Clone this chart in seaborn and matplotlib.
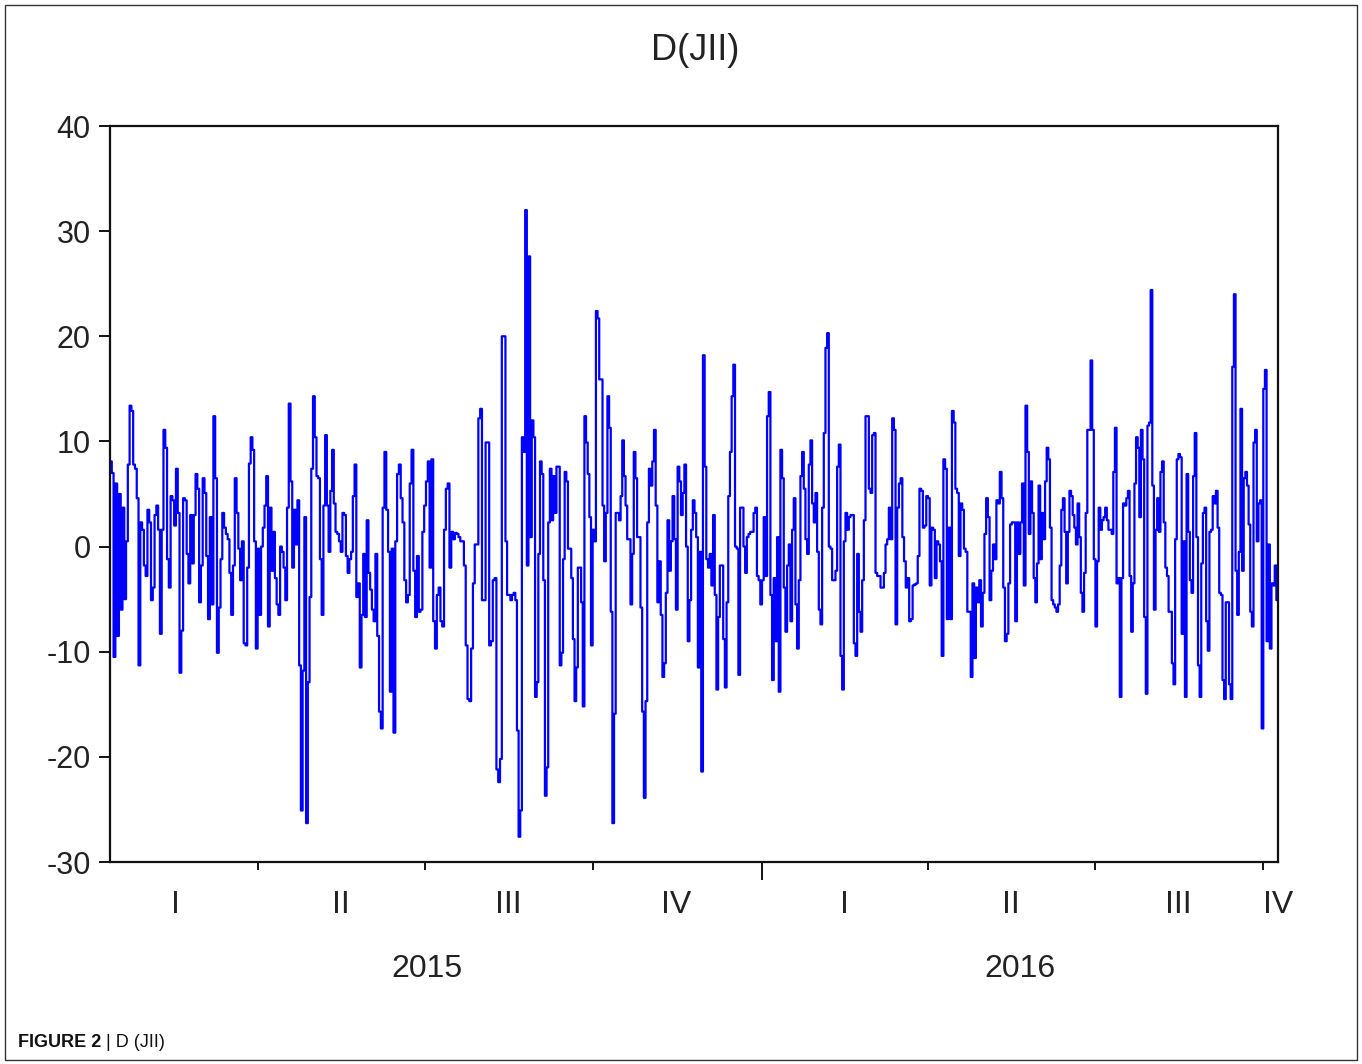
import pandas as pd
import matplotlib.pyplot as plt
import seaborn as sns
from matplotlib.patches import Rectangle

# D(JII) daily first differences in order (left to right),
# split into nine stretches; each stretch begins on the matching date in part_starts
d_jii_part1 = [8.1, 7.0, -10.5, 6.0, -8.5, 5.0, -6.0, 3.7, -5.0, 0.5, 7.8, 13.4, 12.9, 7.8, 7.4, 4.6,
               -11.3, 2.3, 1.6, -1.8, -2.8, 3.5, 2.3, -5.1, -3.9, 3.0, 3.9, 1.6, -8.3, 1.6, 11.1, 9.4,
               -1.2, -3.9, 4.8, 4.4, 2.0, 7.4, 3.2, -12.0, -8.0, 4.6, 4.4, -0.7, -3.5, 3.0, -1.6, 3.0,
               6.9, 5.5, -5.3, -1.8, 6.5, 5.1, -0.9, -6.9, 2.8, -5.5, 12.4, 6.5, -10.1, -5.8, -1.2,
               3.2, 1.8, 1.2, 0.7, -2.5, -6.5, -1.8, 6.5, 3.2, -0.2, -3.2, 0.5, -9.2]
d_jii_part2 = [-9.4, -2.0, 7.9, 10.4, 9.2, 0.5, -9.7, -0.2, -6.5, 0.0, 1.8, 3.9, 6.7, -7.6, 3.7, -2.3,
               1.4, -3.0, -5.5, -6.5, 0.0, -0.5, -2.0, -5.1, 3.7, 13.6, 6.2, -2.0, 3.5, 0.2, 4.4, -11.3,
               -25.1, -11.8, 2.8, -26.3, -12.9, -4.8, 7.4, 14.3, 10.4, 6.7, 6.5, -1.2, -6.5, 3.9, 10.6,
               3.9, -0.5, 5.3, 9.2, 4.1, 1.4, 1.2, 0.5, -0.5, 3.2, 3.0, -0.9, -2.5, -1.2, -0.5, 4.8,
               7.8, -4.8, -3.5, -11.5, -6.5, -0.7, -6.7, 2.5, -2.5, -4.1, -6.0]
d_jii_part3 = [-7.1, -0.7, -8.5, -15.7, -17.3, 3.7, 9.0, 3.5, -0.5, -13.8, -0.2, -17.7, 0.5, 6.9, 7.8,
               4.6, 2.3, -3.2, -5.3, -4.6, 6.0, 9.2, -2.3, -6.7, -0.9, -6.2, -6.0, 1.4, 3.9, 6.2, 8.1,
               -2.0, 8.3, -7.1, -9.7, -4.6, -3.9, -7.1, -7.6, 1.6, 5.5, 6.0, -2.0, 1.4, 0.7, 1.3, 1.2,
               0.9, 0.5, 0.5, -1.8, -9.4, -14.5, -14.7, -9.7, -3.5, 0.2, 0.2, 12.2, 13.1, -5.1, -5.1,
               9.9, 9.9, -9.4, -9.0, -3.2, -3.0, -21.2, -22.4, -20.2, 20.0, 20.0]
d_jii_part4 = [0.5, -4.6, -4.6, -5.1, -4.6, -4.4, -5.1, -17.5, -27.6, -25.1, 10.4, 9.0, 32.0, -1.8,
               27.6, 0.9, 12.0, 10.4, -14.3, -12.9, -0.7, 8.1, 6.9, -3.2, -23.7, -21.0, 2.3, 7.4, 2.5,
               6.7, 3.2, 7.6, 7.6, -11.3, -10.1, -1.2, 7.1, 6.2, -0.2, -0.2, -3.0, -8.8, -14.7, -11.5,
               -2.0, -2.0, -5.3, -15.2, 12.4, 9.9, 6.9, 2.8, -9.4, 1.6, 0.5, 22.4, 21.7, 15.9, 15.9,
               3.9, -1.4, 3.2, 14.3, 11.3, -6.2, -26.3, -15.9, 3.2, 3.2, 2.5, 4.8, 10.1, 6.7, 3.9, 0.7,
               0.7, -5.5, -0.7, 9.0]
d_jii_part5 = [6.5, 0.9, 0.9, -5.8, -15.7, -23.9, -14.7, 2.3, 7.4, 5.8, 8.1, 11.1, 3.9, -5.3, -1.4,
               -6.5, -12.4, -11.1, -4.4, 2.5, -2.3, 0.5, 4.8, 0.7, -6.0, 7.6, 6.2, 3.0, 5.1, 7.8, 0.0,
               -9.0, -5.1, 1.6, 4.4, 3.2, 0.9, -11.5, -0.5, -21.4, 18.2, 7.6, -1.2, -2.0, -0.7, -3.7,
               3.0, -4.6, -13.6, -6.7, -1.8, -1.8, -8.8, -13.4, -5.3, 4.8, 9.0, 14.3, 17.3, 0.0, -0.2,
               -12.2, 3.7, 3.7, 0.0, -2.5, 0.9, 1.2, 1.4, 1.4, 3.2, 3.7, -2.8, -3.2, -5.5, -3.2, 2.8]
d_jii_part6 = [-2.8, 12.4, 14.7, -4.6, -12.7, -3.0, -9.0, 0.9, -13.8, 9.2, 6.5, -3.9, -8.1, -1.8, 0.2,
               -7.1, 1.6, 4.6, -5.5, -9.7, -3.2, 6.7, 9.0, 5.5, 0.7, -0.7, 7.8, 10.1, 4.1, 2.3, 5.1,
               -0.5, -6.0, -7.4, 3.7, 10.8, 18.9, 20.3, 0.0, -0.2, -3.2, -3.2, -2.3, 7.6, 9.7, -10.4,
               -13.6, 0.5, 3.2, 1.6, 2.8, 3.0, 3.0, -9.2, -10.4, -0.7, -6.2, -8.1, -3.2, 2.5, 12.4,
               12.4, 5.5, 5.1, 10.6, 10.8, -2.5, -2.8, -2.8, -3.9, -3.9, -2.5, 0.2, 0.7, 3.7, 0.7,
               12.2, 11.1, -7.4]
d_jii_part7 = [3.7, 6.0, 6.5, 0.9, -1.4, -3.9, -3.0, -7.1, -6.9, -3.7, -3.6, -3.5, -0.9, 5.5, 5.3, 1.8,
               2.0, 4.8, 4.6, -3.7, 1.8, 1.6, -3.0, 0.5, 0.2, -1.4, -10.4, 8.3, 7.4, -6.9, 1.8, -6.9,
               12.9, 11.8, 5.5, 5.1, -0.9, 4.1, 3.5, -0.2, -0.5, -6.2, -6.2, -12.4, -3.5, -10.6, -3.9,
               -5.3, -3.2, -7.6, -4.4, 1.2, 4.6, 2.8, -5.1, -2.3, 0.2, -1.2, 4.4, 4.1, 7.1, 4.6, -3.9,
               -9.0, -8.3, -3.5, 2.1, 2.3, 2.3, -7.1, 2.3, -0.7, 2.3, 6.0, -3.7, 13.4]
d_jii_part8 = [9.0, 1.2, 6.2, 3.2, -3.0, -5.3, -1.6, 5.8, -1.2, 3.2, 0.7, 6.2, 9.4, 8.3, 1.8, -5.1,
               -5.5, -5.8, -6.2, -5.5, -1.8, 3.5, 4.6, 1.4, -3.5, 1.4, 5.3, 4.8, 3.0, 1.8, 0.2, 4.1,
               0.9, -4.4, -6.2, -2.5, 3.2, 11.1, 11.1, 17.7, 11.1, -1.2, -7.6, -1.4, 3.7, 1.6, 2.5,
               2.8, 3.7, 2.5, 1.6, 1.6, 1.2, 7.1, 11.3, -3.5, -3.0, -14.3, -3.0, 4.1, 3.9, 4.6, 5.3,
               -2.8, -8.1, -3.5, 6.0, 10.4, 9.4, 2.8, 11.1, 8.3, -6.7, -14.0, 11.5, 11.8, 24.4, 5.8,
               -6.0, 1.6]
d_jii_part9 = [4.6, 1.4, 7.1, 8.1, 2.3, -2.0, -2.8, -6.2, -6.2, -11.1, -13.1, 0.7, 8.3, 8.8, 8.5, -8.3,
               0.5, -14.3, 6.9, 1.4, -3.2, -4.4, 6.7, 10.8, 0.9, -11.3, -14.3, -1.6, 3.2, 3.7, -7.1,
               -9.9, 1.4, 1.6, 4.8, 4.1, 5.3, 1.8, -4.4, -4.6, -12.7, -14.5, -5.3, -5.3, -13.1, -14.5,
               17.1, 24.0, -2.3, -6.5, -0.5, 13.1, -2.3, 6.5, 7.1, 5.8, 2.1, -6.2, -7.6, 9.9, 11.1,
               0.5, 4.1, 4.4, -17.3, 15.0, 16.8, -9.0, 0.2, -9.7, -3.5, -3.7, -1.8, -5.1]

part_starts = ["2015-01-10", "2015-03-25", "2015-06-03", "2015-08-14", "2015-10-24",
               "2016-01-03", "2016-03-15", "2016-05-25", "2016-08-04"]
end_date = "2016-10-09"
quarter_names = ["I", "II", "III", "IV"]
years = [2015, 2016]

parts = [d_jii_part1, d_jii_part2, d_jii_part3, d_jii_part4, d_jii_part5,
         d_jii_part6, d_jii_part7, d_jii_part8, d_jii_part9]
bounds = part_starts + [end_date]
frames = []
for i, vals in enumerate(parts):
    dates = pd.date_range(bounds[i], bounds[i + 1], periods=len(vals) + 1)[:-1]
    frames.append(pd.DataFrame({"date": dates, "d_jii": vals}))
df = pd.concat(frames, ignore_index=True)

sns.set_theme(style="white")
plt.rcParams["font.family"] = ["Liberation Sans", "DejaVu Sans"]
plt.rcParams["axes.unicode_minus"] = False
text_color = "#222222"

fig = plt.figure(figsize=(13.62, 10.64), dpi=100)
ax = fig.add_axes([110 / 1362, 1 - 862 / 1064, 1168 / 1362, 736 / 1064])

sns.lineplot(data=df, x="date", y="d_jii", ax=ax, color="#0000FF", linewidth=1.6,
             estimator=None, drawstyle="steps-post")

x0, x1 = pd.Timestamp(part_starts[0]), pd.Timestamp(end_date)
ax.set_xlim(x0, x1)
ax.set_ylim(-30, 40)
ax.set_yticks(range(-30, 41, 10))
ax.set_xlabel("")
ax.set_ylabel("")

for s in ax.spines.values():
    s.set_color("#111111")
    s.set_linewidth(1.6)

# quarter boundaries as short ticks, year boundary as a long tick
q_starts = pd.date_range("2015-01-01", "2016-12-31", freq="QS")
inner = [d for d in q_starts if x0 < d < x1]
year_ticks = [d for d in inner if d.month == 1]
q_ticks = [d for d in inner if d.month != 1]
ax.set_xticks(year_ticks)
ax.set_xticks(q_ticks, minor=True)
ax.tick_params(axis="x", which="major", direction="out", length=13, width=1.4,
               labelbottom=False, colors="#111111", bottom=True)
ax.tick_params(axis="x", which="minor", direction="out", length=6, width=1.4, bottom=True,
               colors="#111111")
ax.tick_params(axis="y", direction="out", length=8, width=1.4, left=True, pad=6,
               labelsize=22, colors="#111111", labelcolor=text_color)

trans = ax.get_xaxis_transform()
for d in q_starts:
    q_end = d + pd.offsets.QuarterEnd(0)
    if max(d, x0) >= min(q_end, x1):
        continue
    pos = min(d + (q_end - d) / 2, x1)
    ax.text(pos, -0.058, quarter_names[d.quarter - 1], transform=trans, ha="center",
            va="center", fontsize=23, color=text_color)

for y in years:
    lo = pd.Timestamp(f"{y}-01-01")
    hi = min(pd.Timestamp(f"{y}-12-31"), x1)
    ax.text(lo + (hi - lo) / 2, -0.145, str(y), transform=trans,
            ha="center", va="center", fontsize=23, color=text_color)

fig.text(0.5105, 0.953, "D(JII)", ha="center", va="center", fontsize=26, color=text_color)

fig.text(18 / 1362, 0.0205, "FIGURE 2", ha="left", va="center", fontsize=13,
         fontweight="bold", color="#111111")
fig.text(106 / 1362, 0.0205, "| D (JII)", ha="left", va="center", fontsize=13, color="#111111")

fig.patches.append(Rectangle((5 / 1362, 4 / 1064), 1352 / 1362, 1055 / 1064, transform=fig.transFigure,
                             fill=False, edgecolor="#333333", linewidth=1.0))

fig.savefig("out.png", dpi=100)
